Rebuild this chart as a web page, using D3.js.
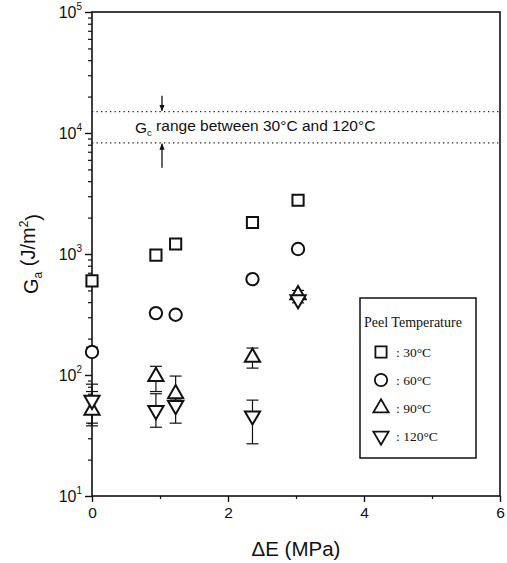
<!DOCTYPE html>
<html>
<head>
<meta charset="utf-8">
<script src="https://cdn.jsdelivr.net/npm/d3@7"></script>
<style>
  html, body { margin: 0; padding: 0; background: #fff; }
  svg { display: block; }
  text { fill: #111; }
</style>
</head>
<body>
<svg id="chart" width="507" height="563"></svg>
<script>
// ---------------- data ----------------
const xTicks = [0, 2, 4, 6];
const xMinorTicks = [1, 3, 5];
const yTickExponents = [1, 2, 3, 4, 5];
const gcRange = [8300, 15000];           // dotted Gc range lines

const deltaE = [0, 0.94, 1.23, 2.36, 3.03];

const g30  = [600, 980, 1210, 1820, 2780];
const g30Lo = [570, 940, 1160, 1750, 2650];
const g30Hi = [630, 1020, 1260, 1890, 2920];

const g60  = [155, 325, 315, 620, 1100];
const g60Lo = [146, 306, 300, 595, 1050];
const g60Hi = [170, 345, 330, 645, 1160];

const g90  = [51, 97, 70, 140, 460];
const g90Lo = [38, 73, 62, 114, 425];
const g90Hi = [73, 118, 98, 167, 500];

const g120  = [62, 51, 56, 46, 420];
const g120Lo = [40, 37, 40, 27, 395];
const g120Hi = [84, 70, 68, 62, 445];

const seriesNames = ["30°C", "60°C", "90°C", "120°C"];

// ---------------- layout ----------------
const svg = d3.select("#chart");
const X0 = 92, X1 = 500, Y0 = 496, Y1 = 12;
const x = d3.scaleLinear().domain([0, 6]).range([X0, X1]);
const y = d3.scaleLog().domain([10, 1e5]).range([Y0, Y1]);

const sans = "'Liberation Sans', Arial, Helvetica, sans-serif";
const serif = "'Liberation Serif', 'Times New Roman', Times, serif";

// frame
svg.append("rect")
  .attr("x", X0).attr("y", Y1)
  .attr("width", X1 - X0).attr("height", Y0 - Y1)
  .attr("fill", "none").attr("stroke", "#111").attr("stroke-width", 1.6);

// x axis
const xAxis = svg.append("g").attr("transform", `translate(0,${Y0})`)
  .call(d3.axisBottom(x).tickValues(xTicks).tickSize(6).tickPadding(5).tickFormat(d3.format("d")));
xAxis.select(".domain").remove();
xAxis.selectAll("line").attr("stroke", "#111").attr("stroke-width", 1.4);
xAxis.selectAll("text").attr("font-family", sans).attr("font-size", 15.5).attr("fill", "#111");

const xMinor = svg.append("g").attr("transform", `translate(0,${Y0})`)
  .call(d3.axisBottom(x).tickValues(xMinorTicks).tickSize(3).tickFormat(() => ""));
xMinor.select(".domain").remove();
xMinor.selectAll("line").attr("stroke", "#111").attr("stroke-width", 1.2);

// y axis (major)
const yMajorVals = yTickExponents.map(e => Math.pow(10, e));
const yAxis = svg.append("g").attr("transform", `translate(${X0},0)`)
  .call(d3.axisLeft(y).tickValues(yMajorVals).tickSize(7).tickPadding(8).tickFormat(() => ""));
yAxis.select(".domain").remove();
yAxis.selectAll("line").attr("stroke", "#111").attr("stroke-width", 1.4);
yAxis.selectAll(".tick text").each(function(d) {
  const t = d3.select(this)
    .attr("font-family", sans).attr("font-size", 16).attr("fill", "#111")
    .attr("x", -10).attr("dy", "0.35em").attr("text-anchor", "end");
  t.append("tspan").text("10");
  t.append("tspan").attr("font-size", 10).attr("dy", "-0.8em").text(Math.round(Math.log10(d)));
});

// y axis (minor)
const yMinorVals = [];
for (let e = 1; e < 5; e++) for (let m = 2; m <= 9; m++) yMinorVals.push(m * Math.pow(10, e));
const yMinor = svg.append("g").attr("transform", `translate(${X0},0)`)
  .call(d3.axisLeft(y).tickValues(yMinorVals).tickSize(4).tickFormat(() => ""));
yMinor.select(".domain").remove();
yMinor.selectAll("line").attr("stroke", "#111").attr("stroke-width", 1.2);

// axis titles
const yTitle = svg.append("text")
  .attr("transform", `translate(38,${(Y0 + Y1) / 2}) rotate(-90)`)
  .attr("text-anchor", "middle").attr("font-family", sans).attr("font-size", 20);
yTitle.append("tspan").text("G");
yTitle.append("tspan").attr("font-size", 12).attr("dy", "0.35em").text("a");
yTitle.append("tspan").attr("dy", "-0.35em").text(" (J/m");
yTitle.append("tspan").attr("font-size", 12).attr("dy", "-0.6em").text("2");
yTitle.append("tspan").attr("dy", "0.6em").text(")");

svg.append("text")
  .attr("x", (X0 + X1) / 2).attr("y", 556)
  .attr("text-anchor", "middle").attr("font-family", sans).attr("font-size", 20.5)
  .text("ΔE (MPa)");

// Gc range dotted lines
svg.selectAll("line.gc").data(gcRange).enter().append("line")
  .attr("class", "gc")
  .attr("x1", X0).attr("x2", X1)
  .attr("y1", d => y(d)).attr("y2", d => y(d))
  .attr("stroke", "#222").attr("stroke-width", 1.2)
  .attr("stroke-dasharray", "1.3,3.2");

// arrows
const defs = svg.append("defs");
defs.append("marker").attr("id", "ah")
  .attr("viewBox", "0 0 10 10").attr("refX", 9).attr("refY", 5)
  .attr("markerWidth", 5).attr("markerHeight", 6).attr("orient", "auto")
  .append("path").attr("d", "M0,1 L10,5 L0,9 Z").attr("fill", "#111");
const arrowX = 162;
svg.append("line")
  .attr("x1", arrowX).attr("x2", arrowX)
  .attr("y1", y(gcRange[1]) - 16).attr("y2", y(gcRange[1]) - 1)
  .attr("stroke", "#111").attr("stroke-width", 1.3).attr("marker-end", "url(#ah)");
svg.append("line")
  .attr("x1", arrowX).attr("x2", arrowX)
  .attr("y1", y(gcRange[0]) + 25).attr("y2", y(gcRange[0]) + 1)
  .attr("stroke", "#111").attr("stroke-width", 1.3).attr("marker-end", "url(#ah)");

const gcText = svg.append("text")
  .attr("x", 135).attr("y", 133)
  .attr("font-family", sans).attr("font-size", 15.5);
gcText.append("tspan").text("G");
gcText.append("tspan").attr("font-size", 9.5).attr("dy", "0.35em").text("c");
gcText.append("tspan").attr("dy", "-0.35em").text(" range between 30°C and 120°C");

// ---------------- data marks ----------------
const shapes = [
  d3.symbol().type(d3.symbolSquare).size(125),
  d3.symbol().type(d3.symbolCircle).size(120),
  d3.symbol().type(d3.symbolTriangle).size(100),
  d3.symbol().type(d3.symbolTriangle).size(100)
];
const rotations = [0, 0, 0, 180];
const allSeries = [
  { vals: g30, lo: g30Lo, hi: g30Hi },
  { vals: g60, lo: g60Lo, hi: g60Hi },
  { vals: g90, lo: g90Lo, hi: g90Hi },
  { vals: g120, lo: g120Lo, hi: g120Hi }
];

const capW = 6;
const errG = svg.append("g");
const markG = svg.append("g");
allSeries.forEach((s, si) => {
  const pts = deltaE.map((e, i) => ({ e, v: s.vals[i], lo: s.lo[i], hi: s.hi[i] }));
  const eg = errG.selectAll(null).data(pts).enter().append("g").attr("stroke", "#111").attr("stroke-width", 1.2);
  eg.append("line").attr("x1", d => x(d.e)).attr("x2", d => x(d.e))
    .attr("y1", d => y(d.lo)).attr("y2", d => y(d.hi));
  eg.append("line").attr("x1", d => x(d.e) - capW).attr("x2", d => x(d.e) + capW)
    .attr("y1", d => y(d.lo)).attr("y2", d => y(d.lo));
  eg.append("line").attr("x1", d => x(d.e) - capW).attr("x2", d => x(d.e) + capW)
    .attr("y1", d => y(d.hi)).attr("y2", d => y(d.hi));
  markG.selectAll(null).data(pts).enter().append("path")
    .attr("d", shapes[si])
    .attr("transform", d => `translate(${x(d.e)},${y(d.v)}) rotate(${rotations[si]})`)
    .attr("fill", "#fff").attr("stroke", "#111").attr("stroke-width", 2);
});

// ---------------- legend ----------------
const lg = svg.append("g");
lg.append("rect").attr("x", 360).attr("y", 298).attr("width", 116).attr("height", 160)
  .attr("fill", "#fff").attr("stroke", "#111").attr("stroke-width", 1.5);
lg.append("text").attr("x", 364).attr("y", 327)
  .attr("font-family", serif).attr("font-size", 14).text("Peel Temperature");
seriesNames.forEach((name, i) => {
  const ry = 352 + i * 28;
  lg.append("path").attr("d", shapes[i])
    .attr("transform", `translate(381,${ry}) rotate(${rotations[i]})`)
    .attr("fill", "#fff").attr("stroke", "#111").attr("stroke-width", 1.8);
  lg.append("text").attr("x", 396).attr("y", ry + 5)
    .attr("font-family", serif).attr("font-size", 13.5).text(": " + name);
});
</script>
</body>
</html>
